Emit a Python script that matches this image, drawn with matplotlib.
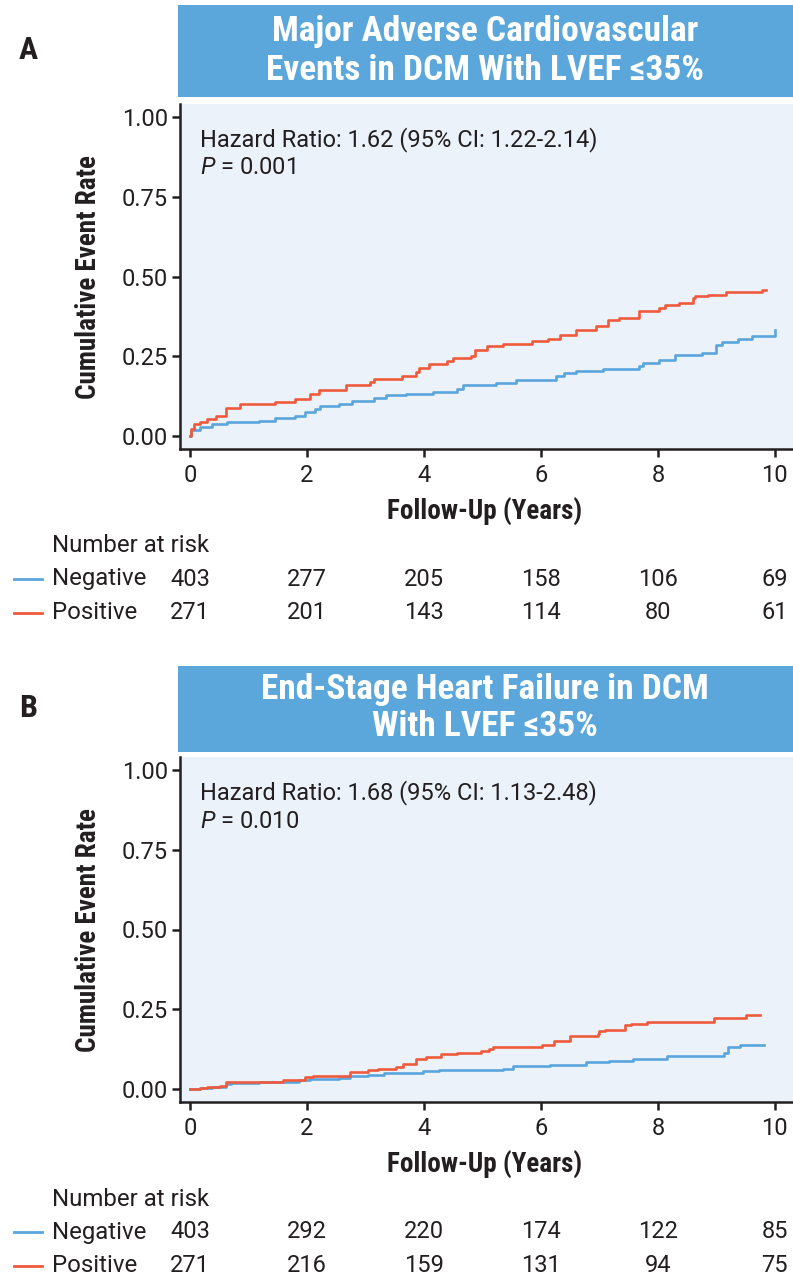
import matplotlib
matplotlib.use("Agg")
import matplotlib.pyplot as plt
from matplotlib.patches import Rectangle
from matplotlib.lines import Line2D
from matplotlib.transforms import blended_transform_factory

W, H = 793, 1278

REGULAR = ['Roboto', 'Liberation Sans', 'DejaVu Sans']
NARROW = ['Roboto Condensed', 'Liberation Sans Narrow', 'Roboto', 'DejaVu Sans']

plt.rcParams['font.family'] = REGULAR
plt.rcParams['mathtext.fontset'] = 'custom'
plt.rcParams['mathtext.it'] = 'Roboto:italic'
plt.rcParams['mathtext.rm'] = 'Roboto'

BLUE = '#5aa5dc'
RED = '#ef5a3c'
BOX = '#5ba6db'
BG = '#ebf2fa'
INK = '#231f20'

# ---- data ----
years = [0, 2, 4, 6, 8, 10]

# A: major adverse cardiovascular events
mace_neg_t = [0, 0.02, 0.17, 0.37, 0.64, 1.18, 1.45, 1.8, 1.96, 2.13, 2.23, 2.54,
              2.77, 3.15, 3.35, 3.69, 4.16, 4.57, 4.67, 5.24, 5.58, 6.26, 6.39,
              6.6, 7.07, 7.68, 7.75, 8.02, 8.29, 8.76, 8.99, 9.1, 9.37, 9.61, 10.0]
mace_neg_v = [0, 0.018, 0.028, 0.038, 0.046, 0.049, 0.056, 0.064, 0.077, 0.085,
              0.095, 0.100, 0.111, 0.119, 0.129, 0.132, 0.137, 0.147, 0.160,
              0.166, 0.175, 0.189, 0.197, 0.204, 0.212, 0.220, 0.228, 0.239,
              0.253, 0.261, 0.287, 0.295, 0.305, 0.315, 0.332]
mace_pos_t = [0, 0.01, 0.07, 0.17, 0.3, 0.44, 0.61, 0.85, 1.45, 1.8, 2.06, 2.2,
              2.67, 3.08, 3.15, 3.62, 3.86, 3.92, 4.09, 4.4, 4.5, 4.8, 4.87,
              5.07, 5.35, 5.85, 6.12, 6.33, 6.6, 6.94, 7.14, 7.34, 7.68, 8.02,
              8.12, 8.36, 8.6, 8.63, 8.85, 9.17, 9.78, 9.85]
mace_pos_v = [0, 0.023, 0.038, 0.046, 0.054, 0.064, 0.087, 0.100, 0.106, 0.116,
              0.132, 0.145, 0.160, 0.170, 0.178, 0.189, 0.200, 0.215, 0.225,
              0.235, 0.246, 0.251, 0.270, 0.282, 0.290, 0.298, 0.305, 0.318,
              0.334, 0.344, 0.363, 0.370, 0.391, 0.400, 0.410, 0.417, 0.433,
              0.440, 0.443, 0.451, 0.458, 0.458]
mace_neg_risk = [403, 277, 205, 158, 106, 69]
mace_pos_risk = [271, 201, 143, 114, 80, 61]

# B: end-stage heart failure
eshf_neg_t = [0, 0.17, 0.37, 0.61, 0.71, 1.18, 1.86, 2.06, 2.54, 2.74, 3.05,
              3.31, 3.99, 4.26, 5.35, 5.52, 6.16, 6.77, 7.17, 7.58, 8.15, 9.13,
              9.2, 9.4, 9.81]
eshf_neg_v = [0, 0.004, 0.007, 0.015, 0.018, 0.023, 0.028, 0.031, 0.036, 0.041,
              0.046, 0.052, 0.056, 0.060, 0.064, 0.072, 0.077, 0.084, 0.089,
              0.096, 0.103, 0.113, 0.132, 0.140, 0.140]
eshf_pos_t = [0, 0.17, 0.3, 0.51, 0.61, 1.59, 1.96, 2.1, 2.74, 3.05, 3.21, 3.52,
              3.65, 3.86, 4.03, 4.3, 4.57, 4.97, 5.11, 5.18, 6.02, 6.22, 6.49,
              6.97, 7.0, 7.1, 7.44, 7.54, 7.81, 8.96, 9.5, 9.74]
eshf_pos_v = [0, 0.004, 0.007, 0.010, 0.023, 0.028, 0.038, 0.041, 0.054, 0.059,
              0.062, 0.070, 0.080, 0.096, 0.100, 0.109, 0.113, 0.120, 0.127,
              0.132, 0.140, 0.151, 0.166, 0.174, 0.182, 0.186, 0.200, 0.205,
              0.212, 0.222, 0.231, 0.231]
eshf_neg_risk = [403, 292, 220, 174, 122, 85]
eshf_pos_risk = [271, 216, 159, 131, 94, 75]


def fx(px):
    return px / W


def fy(py):
    return 1 - py / H


fig = plt.figure(figsize=(W / 100, H / 100), dpi=100)


def draw_panel(off, box, letter, title_lines, hr, pval,
               neg_t, neg_v, pos_t, pos_v, neg_risk, pos_risk):
    # blue title box
    btop, bbot = box
    fig.patches.append(Rectangle((fx(178), fy(bbot)), 1 - fx(178), (bbot - btop) / H,
                                 transform=fig.transFigure, facecolor=BOX,
                                 edgecolor='none'))
    for line, yy in zip(*title_lines):
        fig.text(fx(485), fy(yy), line, ha='center', va='center', color='white',
                 fontsize=25.5, fontweight='bold', family=NARROW)
    fig.text(fx(28), fy(letter[1]), letter[0], ha='center', va='center',
             fontsize=23, fontweight='bold', family=NARROW, color=INK)

    ax = fig.add_axes([fx(180), fy(449 + off), 1 - fx(180), 345 / H])
    ax.set_facecolor(BG)
    ax.step(neg_t, neg_v, where='post', color=BLUE, lw=1.9, zorder=3)
    ax.step(pos_t, pos_v, where='post', color=RED, lw=1.9, zorder=3)
    ax.set_xlim(-0.17, 10.31)
    ax.set_ylim(-0.04, 1.04)
    ax.set_xticks(years)
    ax.set_yticks([0, 0.25, 0.5, 0.75, 1.0])
    ax.set_yticklabels(['0.00', '0.25', '0.50', '0.75', '1.00'])
    for s in ['top', 'right']:
        ax.spines[s].set_visible(False)
    for s in ['left', 'bottom']:
        ax.spines[s].set_linewidth(1.8)
        ax.spines[s].set_color(INK)
    ax.tick_params(length=5.8, width=1.8, color=INK, labelsize=17,
                   labelcolor=INK)
    ax.tick_params(axis='x', pad=5)
    ax.tick_params(axis='y', pad=3)

    ax.text(0.032, 1 - (140 - 104) / 345, hr, transform=ax.transAxes,
            ha='left', va='center', fontsize=17, color=INK)
    ax.text(0.032, 1 - (168 - 104) / 345, pval, transform=ax.transAxes,
            ha='left', va='center', fontsize=17, color=INK)

    fig.text(fx(88), fy(277 + off), 'Cumulative Event Rate', rotation=90,
             ha='center', va='center', fontsize=19.5, fontweight='bold',
             family=NARROW, color=INK)
    fig.text(fx(485), fy(512 + off), 'Follow-Up (Years)', ha='center',
             va='center', fontsize=19.5, fontweight='bold', family=NARROW,
             color=INK)

    # number at risk table
    fig.text(fx(52), fy(546 + off), 'Number at risk', ha='left', va='center',
             fontsize=17.3, color=INK)
    trans = blended_transform_factory(ax.transData, fig.transFigure)
    for yy, name, col, counts in [(579, 'Negative', BLUE, neg_risk),
                                  (613, 'Positive', RED, pos_risk)]:
        fig.lines.append(Line2D([fx(14), fx(42)], [fy(yy + off)] * 2,
                                transform=fig.transFigure, color=col, lw=2))
        fig.text(fx(52), fy(yy + off), name, ha='left', va='center',
                 fontsize=17.3, color=INK)
        for x, n in zip(years, counts):
            ax.text(x, fy(yy + off), str(n), transform=trans, ha='center',
                    va='center', fontsize=17, color=INK, clip_on=False)


draw_panel(0, (5, 97), ('A', 50),
           (['Major Adverse Cardiovascular', 'Events in DCM With LVEF \u226435%'], [32, 71]),
           'Hazard Ratio: 1.62 (95% CI: 1.22-2.14)', '$P$ = 0.001',
           mace_neg_t, mace_neg_v, mace_pos_t, mace_pos_v,
           mace_neg_risk, mace_pos_risk)
draw_panel(653, (666, 752), ('B', 708),
           (['End-Stage Heart Failure in DCM', 'With LVEF \u226435%'], [690, 727]),
           'Hazard Ratio: 1.68 (95% CI: 1.13-2.48)', '$P$ = 0.010',
           eshf_neg_t, eshf_neg_v, eshf_pos_t, eshf_pos_v,
           eshf_neg_risk, eshf_pos_risk)

fig.savefig('out.png', dpi=100)
